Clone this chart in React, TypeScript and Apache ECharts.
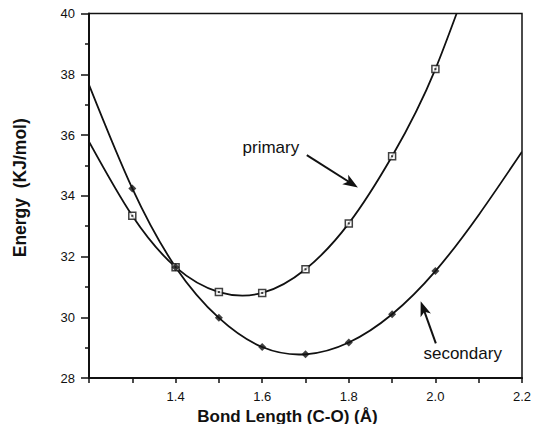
import React, { useEffect, useRef } from "react";
import * as echarts from "echarts";

// Data
const bondLength = [1.3, 1.4, 1.5, 1.6, 1.7, 1.8, 1.9, 2.0];
const primaryEnergy = [33.34, 31.65, 30.83, 30.8, 31.58, 33.09, 35.3, 38.17];
const secondaryEnergy = [34.24, 31.65, 29.98, 29.02, 28.78, 29.17, 30.1, 31.52];
// Where the fitted curves meet the frame
const primaryCurveStart = [1.2, 35.78];
const primaryCurveEnd = [2.049, 40];
const secondaryCurveStart = [1.2, 37.65];
const secondaryCurveEnd = [2.2, 35.45];

// Annotations (data coordinates)
const primaryLabel = { text: "primary", at: [1.62, 35.58], from: [1.703, 35.34], to: [1.821, 34.27] };
const secondaryLabel = { text: "secondary", at: [2.063, 28.8], from: [2.001, 29.14], to: [1.966, 30.53] };

const FONT = "Liberation Sans, Arial, Helvetica, sans-serif";
const INK = "#111";

function zip(xs: number[], ys: number[]) {
  return xs.map((x, i) => [x, ys[i]]);
}

// Natural cubic spline slopes through (xs, ys)
function splineSlopes(xs: number[], ys: number[]) {
  const n = xs.length;
  const h: number[] = [];
  for (let i = 0; i < n - 1; i++) h.push(xs[i + 1] - xs[i]);
  const M = new Array(n).fill(0);
  if (n > 2) {
    const a: number[] = [], b: number[] = [], c: number[] = [], d: number[] = [];
    for (let i = 1; i < n - 1; i++) {
      a.push(h[i - 1]);
      b.push(2 * (h[i - 1] + h[i]));
      c.push(h[i]);
      d.push(6 * ((ys[i + 1] - ys[i]) / h[i] - (ys[i] - ys[i - 1]) / h[i - 1]));
    }
    const m = b.length;
    for (let i = 1; i < m; i++) {
      const w = a[i] / b[i - 1];
      b[i] -= w * c[i - 1];
      d[i] -= w * d[i - 1];
    }
    const sol = new Array(m).fill(0);
    sol[m - 1] = d[m - 1] / b[m - 1];
    for (let i = m - 2; i >= 0; i--) sol[i] = (d[i] - c[i] * sol[i + 1]) / b[i];
    for (let i = 0; i < m; i++) M[i + 1] = sol[i];
  }
  const slopes: number[] = [];
  for (let i = 0; i < n - 1; i++) {
    slopes.push((ys[i + 1] - ys[i]) / h[i] - (h[i] * (2 * M[i] + M[i + 1])) / 6);
  }
  slopes.push((ys[n - 1] - ys[n - 2]) / h[n - 2] + (h[n - 2] * (M[n - 2] + 2 * M[n - 1])) / 6);
  return slopes;
}

function curveSeries(name: string, pts: number[][]) {
  const xs = pts.map((p) => p[0]);
  const ys = pts.map((p) => p[1]);
  const m = splineSlopes(xs, ys);
  return {
    name,
    type: "custom",
    coordinateSystem: "cartesian2d",
    data: pts,
    clip: true,
    silent: true,
    z: 2,
    renderItem: (params: any, api: any) => {
      if (params.dataIndex !== 0) return null;
      const P = (x: number, y: number) => api.coord([x, y]);
      const p0 = P(xs[0], ys[0]);
      let d = `M${p0[0]},${p0[1]}`;
      for (let i = 0; i < xs.length - 1; i++) {
        const hh = xs[i + 1] - xs[i];
        const c1 = P(xs[i] + hh / 3, ys[i] + (m[i] * hh) / 3);
        const c2 = P(xs[i + 1] - hh / 3, ys[i + 1] - (m[i + 1] * hh) / 3);
        const p1 = P(xs[i + 1], ys[i + 1]);
        d += ` C${c1[0]},${c1[1]} ${c2[0]},${c2[1]} ${p1[0]},${p1[1]}`;
      }
      return {
        type: "path",
        shape: { pathData: d },
        style: { fill: "none", stroke: INK, lineWidth: 1.8 },
      };
    },
  };
}

export default function App() {
  const ref = useRef<HTMLDivElement>(null);
  useEffect(() => {
    if (!ref.current) return;
    const chart = echarts.init(ref.current, null, { renderer: "svg" });
    const primaryPts = zip(bondLength, primaryEnergy);
    const secondaryPts = zip(bondLength, secondaryEnergy);
    chart.setOption({
      animation: false,
      backgroundColor: "#fff",
      grid: {
        left: 89,
        right: 11,
        top: 13.5,
        bottom: 46,
        outerBoundsMode: "none",
        containLabel: false,
        show: true,
        borderColor: INK,
        borderWidth: 1.5,
        backgroundColor: "transparent",
      },
      xAxis: {
        type: "value",
        min: 1.2,
        max: 2.2,
        interval: 0.2,
        name: "Bond Length (C-O) (Å)",
        nameLocation: "middle",
        nameGap: 26,
        nameTextStyle: {
          fontFamily: FONT,
          fontWeight: "bold",
          fontSize: 17,
          lineHeight: 16,
          color: INK,
          verticalAlign: "top",
          padding: [0, 36, 0, 0],
        },
        axisLine: { show: true, onZero: false, lineStyle: { color: INK, width: 2 } },
        axisTick: { show: true, length: 5, lineStyle: { color: INK, width: 1.5 } },
        minorTick: { show: true, splitNumber: 2, length: 5, lineStyle: { color: INK, width: 1.5 } },
        splitLine: { show: false },
        axisLabel: {
          margin: 12,
          fontFamily: FONT,
          fontSize: 13,
          color: INK,
          showMinLabel: false,
          formatter: (v: number) => v.toFixed(1),
        },
      },
      yAxis: {
        type: "value",
        min: 28,
        max: 40,
        interval: 2,
        name: "Energy  (KJ/mol)",
        nameLocation: "middle",
        nameGap: 60,
        nameTextStyle: {
          fontFamily: FONT,
          fontWeight: "bold",
          fontSize: 17.5,
          color: INK,
          padding: [0, 0, 0, 16],
        },
        axisLine: { show: true, onZero: false, lineStyle: { color: INK, width: 2 } },
        axisTick: { show: true, length: 8, lineStyle: { color: INK, width: 1.5 } },
        minorTick: { show: true, splitNumber: 2, length: 4, lineStyle: { color: INK, width: 1.5 } },
        splitLine: { show: false },
        axisLabel: {
          margin: 14,
          fontFamily: FONT,
          fontSize: 13,
          color: INK,
        },
      },
      series: [
        curveSeries("primary curve", [primaryCurveStart, ...primaryPts, primaryCurveEnd]),
        curveSeries("secondary curve", [secondaryCurveStart, ...secondaryPts, secondaryCurveEnd]),
        {
          name: "primary",
          type: "scatter",
          data: primaryPts,
          symbol: "rect",
          symbolSize: 7,
          itemStyle: { color: "#fff", borderColor: INK, borderWidth: 1.5 },
          z: 3,
        },
        {
          name: "primary centre",
          type: "scatter",
          data: primaryPts,
          symbol: "rect",
          symbolSize: 2,
          itemStyle: { color: INK },
          z: 4,
        },
        {
          name: "secondary",
          type: "scatter",
          data: secondaryPts,
          symbol: "diamond",
          symbolSize: 8,
          itemStyle: { color: INK },
          z: 5,
        },
      ],
    });

    const px = (p: number[]) => chart.convertToPixel({ gridIndex: 0 }, p) as number[];
    const arrow = (from: number[], to: number[]) => {
      const a = px(from);
      const b = px(to);
      const dx = b[0] - a[0];
      const dy = b[1] - a[1];
      const len = Math.hypot(dx, dy);
      const ux = dx / len;
      const uy = dy / len;
      const headLen = 15;
      const halfW = 5.5;
      const bx = b[0] - ux * headLen;
      const by = b[1] - uy * headLen;
      return [
        {
          type: "line",
          shape: { x1: a[0], y1: a[1], x2: b[0] - ux * 8, y2: b[1] - uy * 8 },
          style: { stroke: INK, lineWidth: 2 },
          z: 10,
        },
        {
          type: "polygon",
          shape: {
            points: [
              [b[0], b[1]],
              [bx - uy * halfW, by + ux * halfW],
              [b[0] - ux * headLen * 0.75, b[1] - uy * headLen * 0.75],
              [bx + uy * halfW, by - ux * halfW],
            ],
          },
          style: { fill: INK },
          z: 10,
        },
      ];
    };
    const label = (l: { text: string; at: number[] }) => {
      const p = px(l.at);
      return {
        type: "text",
        x: p[0],
        y: p[1],
        style: {
          text: l.text,
          fontFamily: FONT,
          fontSize: 17,
          fill: INK,
          align: "center",
          verticalAlign: "middle",
        },
        z: 10,
      };
    };
    chart.setOption({
      graphic: [
        ...arrow(primaryLabel.from, primaryLabel.to),
        ...arrow(secondaryLabel.from, secondaryLabel.to),
        label(primaryLabel),
        label(secondaryLabel),
      ],
    });

    return () => chart.dispose();
  }, []);
  return (
    <div
      ref={ref}
      style={{ position: "fixed", left: 0, top: 0, width: 533, height: 424, background: "#fff" }}
    />
  );
}
